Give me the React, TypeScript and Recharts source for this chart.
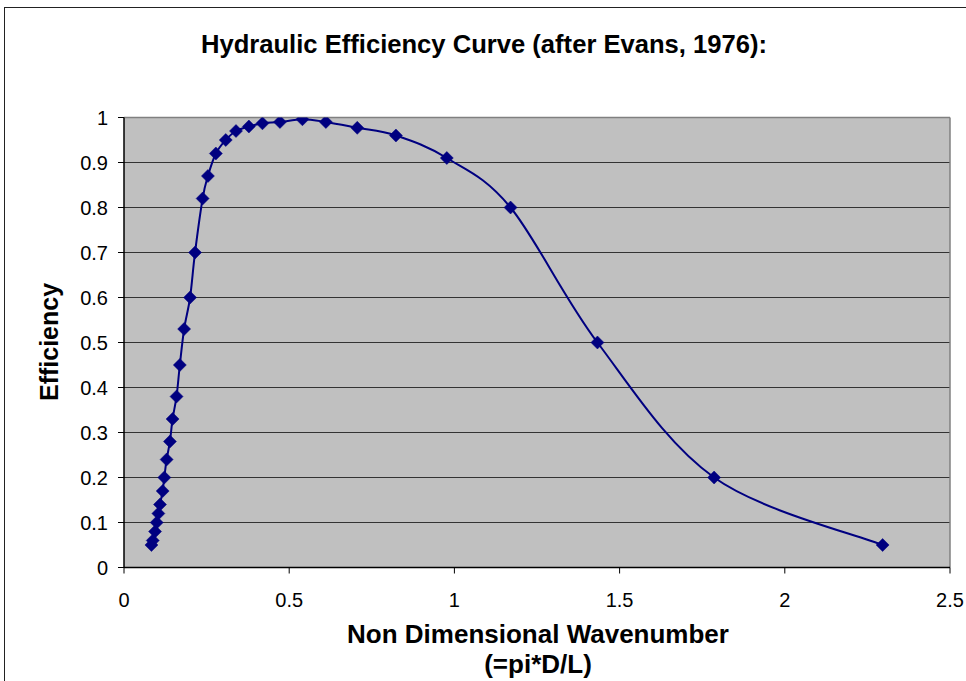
import React from "react";
import { LineChart, Line, XAxis, YAxis, CartesianGrid, ReferenceLine } from "recharts";

const wavenumber = [
  0.083, 0.087, 0.094, 0.099, 0.104, 0.109, 0.117, 0.122, 0.129, 0.139, 0.147,
  0.159, 0.169, 0.182, 0.2, 0.215, 0.238, 0.254, 0.278, 0.308, 0.339, 0.378,
  0.419, 0.472, 0.54, 0.611, 0.706, 0.823, 0.977, 1.17, 1.433, 1.786, 2.296,
];
const efficiency = [
  0.05, 0.06, 0.08, 0.1, 0.12, 0.14, 0.17, 0.2, 0.24, 0.28, 0.33,
  0.38, 0.45, 0.53, 0.6, 0.7, 0.82, 0.87, 0.92, 0.95, 0.97, 0.98,
  0.987, 0.99, 0.996, 0.99, 0.977, 0.96, 0.91, 0.8, 0.5, 0.2, 0.05,
];
const xTicks = [0, 0.5, 1, 1.5, 2, 2.5];
const yTicks = [0, 0.1, 0.2, 0.3, 0.4, 0.5, 0.6, 0.7, 0.8, 0.9, 1];

const data = wavenumber.map((x, i) => ({ x, y: efficiency[i] }));

const FONT = "'Liberation Sans', Arial, sans-serif";
const NAVY = "#000080";

// Excel-style smoothed line (Catmull-Rom Bezier with 1/6 tangents)
const excelCurve = (context: any) => {
  let pts: number[][] = [];
  return {
    areaStart() {},
    areaEnd() {},
    lineStart() {
      pts = [];
    },
    lineEnd() {
      const n = pts.length;
      if (n === 0) return;
      context.moveTo(pts[0][0], pts[0][1]);
      for (let i = 0; i < n - 1; i++) {
        const p0 = pts[Math.max(i - 1, 0)];
        const p1 = pts[i];
        const p2 = pts[i + 1];
        const p3 = pts[Math.min(i + 2, n - 1)];
        const c1x = p1[0] + (p2[0] - p0[0]) / 6;
        const c1y = p1[1] + (p2[1] - p0[1]) / 6;
        const c2x = p2[0] - (p3[0] - p1[0]) / 6;
        const c2y = p2[1] - (p3[1] - p1[1]) / 6;
        context.bezierCurveTo(c1x, c1y, c2x, c2y, p2[0], p2[1]);
      }
    },
    point(x: number, y: number) {
      pts.push([+x, +y]);
    },
  };
};

const Diamond = (props: any) => {
  const { cx, cy, index } = props;
  if (cx == null || cy == null) return <g key={index} />;
  const r = 6.5;
  return (
    <path
      key={index}
      d={`M${cx},${cy - r} L${cx + r},${cy} L${cx},${cy + r} L${cx - r},${cy} Z`}
      fill={NAVY}
      stroke={NAVY}
      strokeWidth={0.5}
    />
  );
};

export default function App() {
  return (
    <div
      style={{
        position: "fixed",
        left: 0,
        top: 0,
        width: 966,
        height: 681,
        overflow: "hidden",
        background: "#fff",
      }}
    >
      <div
        style={{
          position: "absolute",
          left: 4,
          top: 7,
          width: 1000,
          height: 720,
          border: "1px solid #222",
          boxSizing: "border-box",
        }}
      />
      <div style={{ position: "absolute", left: 0, top: 0 }}>
        <LineChart
          width={966}
          height={681}
          data={data}
          margin={{ top: 117.5, right: 16, bottom: 73.5, left: 64 }}
        >
          <CartesianGrid
            vertical={false}
            stroke="#333333"
            fill="#C0C0C0"
            fillOpacity={1}
          />
          <ReferenceLine y={1} stroke="#808080" strokeWidth={1.5} ifOverflow="visible" />
          <ReferenceLine x={2.5} stroke="#808080" strokeWidth={1.5} ifOverflow="visible" />
          <XAxis
            type="number"
            dataKey="x"
            domain={[0, 2.5]}
            ticks={xTicks}
            interval={0}
            height={40}
            tickSize={6}
            tickMargin={19}
            axisLine={{ stroke: "#000", strokeWidth: 1.5 }}
            tickLine={{ stroke: "#000" }}
            tick={{ fill: "#000", fontSize: 20, fontFamily: FONT }}
            allowDataOverflow
          />
          <YAxis
            type="number"
            domain={[0, 1]}
            ticks={yTicks}
            interval={0}
            width={60}
            tickSize={6}
            tickMargin={10}
            axisLine={{ stroke: "#000", strokeWidth: 1.5 }}
            tickLine={{ stroke: "#000" }}
            tick={{ fill: "#000", fontSize: 20, fontFamily: FONT }}
            allowDataOverflow
          />
          <Line
            type={excelCurve as any}
            dataKey="y"
            stroke={NAVY}
            strokeWidth={2}
            dot={Diamond}
            activeDot={false}
            isAnimationActive={false}
          />
        </LineChart>
      </div>
      <svg
        width={966}
        height={681}
        style={{ position: "absolute", left: 0, top: 0, pointerEvents: "none" }}
      >
        <text
          x={484}
          y={53}
          textAnchor="middle"
          fontFamily={FONT}
          fontWeight="bold"
          fontSize={25.6}
          fill="#000"
        >
          Hydraulic Efficiency Curve (after Evans, 1976):
        </text>
        <text
          x={538}
          y={643}
          textAnchor="middle"
          fontFamily={FONT}
          fontWeight="bold"
          fontSize={26}
          fill="#000"
        >
          Non Dimensional Wavenumber
        </text>
        <text
          x={538}
          y={673}
          textAnchor="middle"
          fontFamily={FONT}
          fontWeight="bold"
          fontSize={26}
          fill="#000"
        >
          (=pi*D/L)
        </text>
        <text
          transform="translate(58, 342) rotate(-90)"
          textAnchor="middle"
          fontFamily={FONT}
          fontWeight="bold"
          fontSize={25}
          fill="#000"
        >
          Efficiency
        </text>
      </svg>
    </div>
  );
}
